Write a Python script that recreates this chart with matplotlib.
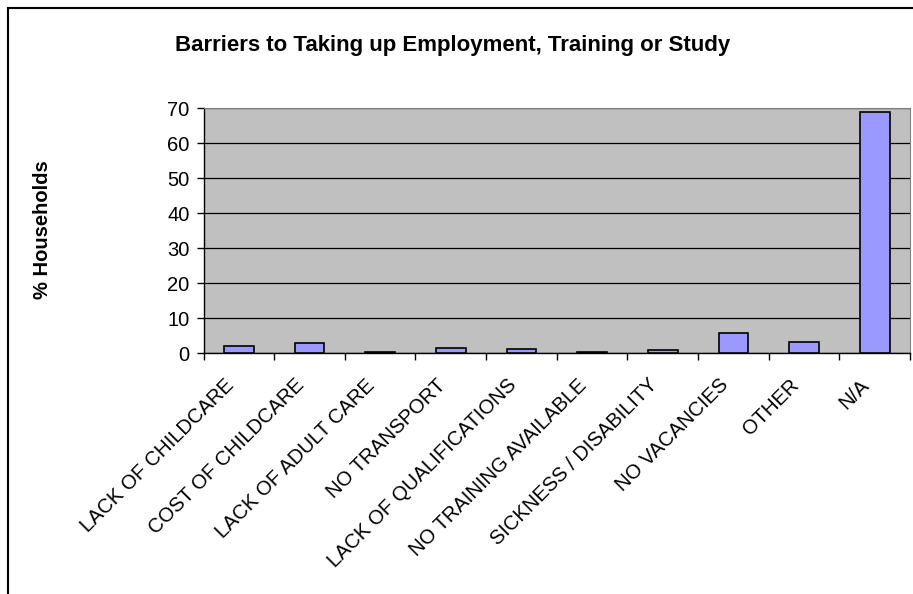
import matplotlib.pyplot as plt
import matplotlib.transforms as mtransforms
from matplotlib.patches import Rectangle

# barrier categories and share of households (%)
categories = ['LACK OF CHILDCARE', 'COST OF CHILDCARE', 'LACK OF ADULT CARE',
              'NO TRANSPORT', 'LACK OF QUALIFICATIONS', 'NO TRAINING AVAILABLE',
              'SICKNESS / DISABILITY', 'NO VACANCIES', 'OTHER', 'N/A']
values = [2.1, 3.0, 0.3, 1.6, 1.2, 0.4, 0.8, 5.8, 3.1, 68.9]
yticks = [0, 10, 20, 30, 40, 50, 60, 70]

plt.rcParams['font.family'] = ['Liberation Sans', 'DejaVu Sans']

fig = plt.figure(figsize=(9.13, 5.94), dpi=100)
# outer chart frame
fig.patches.append(Rectangle((8 / 913, -0.05), 1.1, 1 - 8 / 594 + 0.05,
                             transform=fig.transFigure, fill=False,
                             edgecolor='black', linewidth=1.5))

ax = fig.add_axes([203.5 / 913, 1 - 353.3 / 594, (910 - 203.5) / 913, (353.3 - 108) / 594])
ax.set_facecolor('#c0c0c0')

x = list(range(len(categories)))
ax.bar(x, values, width=0.42, color='#9999ff', edgecolor='black', linewidth=1.2, zorder=3)

ax.set_xlim(-0.5, len(categories) - 0.5)
ax.set_ylim(0, 70)
ax.set_yticks(yticks)
ax.set_yticklabels([str(t) for t in yticks], fontsize=14.5)
ax.yaxis.grid(True, color='black', linewidth=0.9, zorder=0)
ax.set_axisbelow(True)

# category labels at centres, ticks at boundaries
ax.set_xticks(x)
ax.set_xticklabels(categories, rotation=45, ha='right', rotation_mode='anchor', fontsize=14.5)
ax.tick_params(axis='x', length=0, pad=16)
shift = mtransforms.ScaledTranslation(-15 / 100, 0, fig.dpi_scale_trans)
for lbl in ax.get_xticklabels():
    lbl.set_transform(lbl.get_transform() + shift)
ax.set_xticks([i - 0.5 for i in range(len(categories) + 1)], minor=True)
ax.tick_params(axis='x', which='minor', length=5, width=1, direction='out')
ax.tick_params(axis='y', length=5, width=1, direction='out', pad=5)

for side in ['top', 'right']:
    ax.spines[side].set_color('#808080')
for side in ['left', 'bottom']:
    ax.spines[side].set_color('black')
    ax.spines[side].set_linewidth(1)

fig.text(0.496, 1 - 45 / 594, 'Barriers to Taking up Employment, Training or Study',
         ha='center', va='center', fontsize=16, fontweight='bold')
fig.text(43 / 913, 1 - 230 / 594, '% Households', rotation=90,
         ha='center', va='center', fontsize=14.5, fontweight='bold')

fig.savefig('out.png', dpi=100)
